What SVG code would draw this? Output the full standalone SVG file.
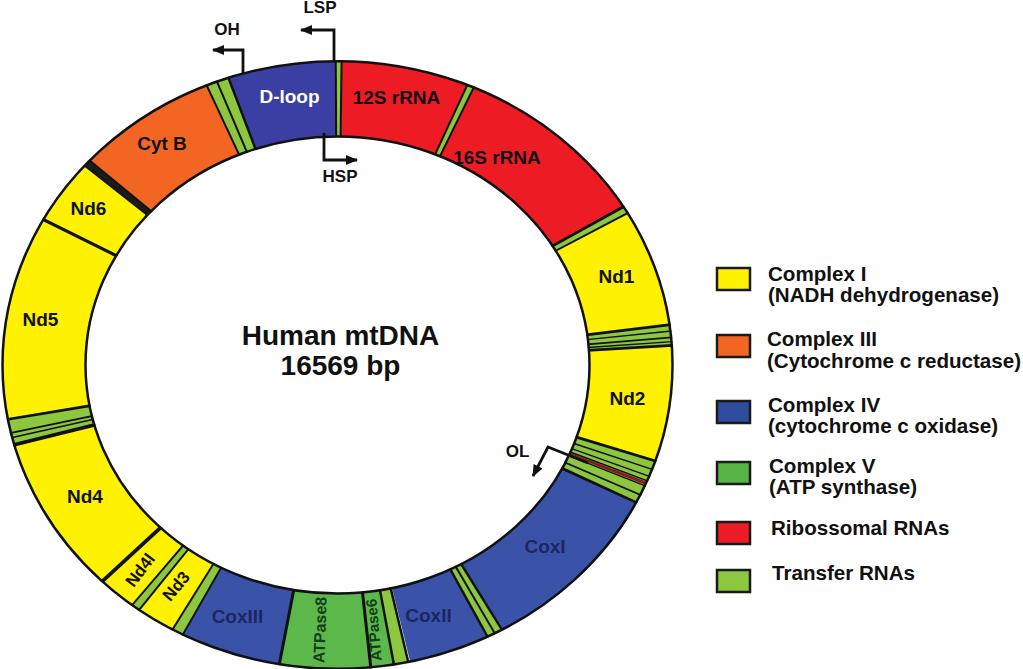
<svg xmlns="http://www.w3.org/2000/svg" xmlns:xlink="http://www.w3.org/1999/xlink" width="1023" height="669" viewBox="0 0 1023 669">
<style>
.lbl{font-family:"Liberation Sans",Arial,sans-serif;font-weight:bold;font-size:19px;text-anchor:middle;fill:#111}
.cox{fill:#1b2760}
.atp{fill:#143d18;font-size:15px}
.wht{fill:#fff}
.leg{font-family:"Liberation Sans",Arial,sans-serif;font-weight:bold;font-size:20.6px;fill:#111}
.ctr{font-family:"Liberation Sans",Arial,sans-serif;font-weight:bold;font-size:28px;text-anchor:middle;fill:#111}
.box{stroke:#1a1a1a;stroke-width:2.5}
.tk{stroke:#111}
.arr{fill:none;stroke:#111;stroke-width:2.8}
</style>
<defs>
<path id="ring" d="M0,-293.5A293.5,293.5 0 0 1 0,293.5A293.5,293.5 0 0 1 0,-293.5" pathLength="360" fill="none" stroke-width="83"/>
<line id="tk" x1="0" y1="-251" x2="0" y2="-336"/>
<marker id="ah" viewBox="0 0 12 10" refX="11" refY="5" markerWidth="12" markerHeight="10" markerUnits="userSpaceOnUse" orient="auto"><path d="M0,0L12,5L0,10z" fill="#111"/></marker>
</defs>
<rect width="1023" height="669" fill="#fff"/>

<g id="dloop"><use href="#ring" transform="translate(337.5,365) scale(1,0.907) rotate(341)" stroke="#3b3ea2" stroke-dasharray="18.7 400"/><text class="lbl wht" x="289.5" y="103">D-loop</text></g>
<g id="trna-phe"><use href="#ring" transform="translate(337.5,365) scale(1,0.907) rotate(-0.3)" stroke="#8dc63f" stroke-dasharray="1 400"/></g>
<g id="rrna12s"><use href="#ring" transform="translate(337.5,365) scale(1,0.907) rotate(0.7)" stroke="#ed1c24" stroke-dasharray="22.1 400"/><text class="lbl" x="396.5" y="104">12S rRNA</text></g>
<g id="trna-val"><use href="#ring" transform="translate(337.5,365) scale(1,0.907) rotate(22.8)" stroke="#8dc63f" stroke-dasharray="1.2 400"/></g>
<g id="rrna16s"><use href="#ring" transform="translate(337.5,365) scale(1,0.907) rotate(24)" stroke="#ed1c24" stroke-dasharray="34.6 400"/><text class="lbl" x="497" y="164">16S rRNA</text></g>
<g id="trna-leu"><use href="#ring" transform="translate(337.5,365) scale(1,0.907) rotate(58.6)" stroke="#8dc63f" stroke-dasharray="1.4 400"/></g>
<g id="nd1"><use href="#ring" transform="translate(337.5,365) scale(1,0.907) rotate(60)" stroke="#fff200" stroke-dasharray="22.3 400"/><text class="lbl" x="616.5" y="283">Nd1</text></g>
<g id="trna-iqm"><use href="#ring" transform="translate(337.5,365) scale(1,0.907) rotate(82.3)" stroke="#8dc63f" stroke-dasharray="4 400"/></g>
<g id="nd2"><use href="#ring" transform="translate(337.5,365) scale(1,0.907) rotate(86.3)" stroke="#fff200" stroke-dasharray="22 400"/><text class="lbl" x="627.5" y="405">Nd2</text></g>
<g id="trna-wancy"><use href="#ring" transform="translate(337.5,365) scale(1,0.907) rotate(108.3)" stroke="#8dc63f" stroke-dasharray="8.7 400"/><use href="#ring" transform="translate(337.5,365) scale(1,0.907) rotate(112.6)" stroke="#8b1c1c" stroke-dasharray="0.6 400"/></g>
<g id="cox1"><use href="#ring" transform="translate(337.5,365) scale(1,0.907) rotate(117)" stroke="#3a53a8" stroke-dasharray="33.5 400"/><text class="lbl cox" x="545" y="553">CoxI</text></g>
<g id="trna-sd"><use href="#ring" transform="translate(337.5,365) scale(1,0.907) rotate(150.5)" stroke="#8dc63f" stroke-dasharray="3 400"/></g>
<g id="cox2"><use href="#ring" transform="translate(337.5,365) scale(1,0.907) rotate(153.5)" stroke="#3a53a8" stroke-dasharray="14 400"/><text class="lbl cox" x="428.5" y="622">CoxII</text></g>
<g id="trna-lys"><use href="#ring" transform="translate(337.5,365) scale(1,0.907) rotate(167.8)" stroke="#8dc63f" stroke-dasharray="2.5 400"/></g>
<g id="atpase6"><use href="#ring" transform="translate(337.5,365) scale(1,0.907) rotate(170.3)" stroke="#5cb84a" stroke-dasharray="4 400"/><text class="lbl atp" transform="translate(374,630) rotate(-95)" x="0" y="5">ATPase6</text></g>
<g id="atpase8"><use href="#ring" transform="translate(337.5,365) scale(1,0.907) rotate(174.3)" stroke="#5cb84a" stroke-dasharray="15.7 400"/><text class="lbl atp" transform="translate(320,630) rotate(-88)" x="0" y="5.5" style="font-size:16px">ATPase8</text></g>
<g id="cox3"><use href="#ring" transform="translate(337.5,365) scale(1,0.907) rotate(190)" stroke="#3a53a8" stroke-dasharray="17.5 400"/><text class="lbl cox" x="237.5" y="623">CoxIII</text></g>
<g id="trna-gly"><use href="#ring" transform="translate(337.5,365) scale(1,0.907) rotate(207.5)" stroke="#8dc63f" stroke-dasharray="2 400"/></g>
<g id="trna-arg"><use href="#ring" transform="translate(337.5,365) scale(1,0.907) rotate(216.3)" stroke="#8dc63f" stroke-dasharray="1.5 400"/></g>
<g id="nd4l"><use href="#ring" transform="translate(337.5,365) scale(1,0.907) rotate(217.8)" stroke="#fff200" stroke-dasharray="6.8 400"/><text class="lbl" transform="translate(140,570) rotate(-53)" x="0" y="6" style="font-size:17px">Nd4l</text></g>
<g id="nd3"><use href="#ring" transform="translate(337.5,365) scale(1,0.907) rotate(209.5)" stroke="#fff200" stroke-dasharray="6.8 400"/><text class="lbl" transform="translate(176,586) rotate(-50)" x="0" y="6" style="font-size:17px">Nd3</text></g>
<g id="nd4"><use href="#ring" transform="translate(337.5,365) scale(1,0.907) rotate(224.6)" stroke="#fff200" stroke-dasharray="29.9 400"/><text class="lbl" x="85" y="503">Nd4</text></g>
<g id="trna-hsl"><use href="#ring" transform="translate(337.5,365) scale(1,0.907) rotate(254.5)" stroke="#8dc63f" stroke-dasharray="5.5 400"/></g>
<g id="nd5"><use href="#ring" transform="translate(337.5,365) scale(1,0.907) rotate(260)" stroke="#fff200" stroke-dasharray="38.6 400"/><text class="lbl" x="40.5" y="326">Nd5</text></g>
<g id="nd6"><use href="#ring" transform="translate(337.5,365) scale(1,0.907) rotate(298.6)" stroke="#fff200" stroke-dasharray="12.4 400"/><text class="lbl" x="88.5" y="215">Nd6</text></g>
<g id="trna-glu"><use href="#ring" transform="translate(337.5,365) scale(1,0.907) rotate(311)" stroke="#1b1b1b" stroke-dasharray="1.3 400"/></g>
<g id="cytb"><use href="#ring" transform="translate(337.5,365) scale(1,0.907) rotate(312.3)" stroke="#f26522" stroke-dasharray="24.7 400"/><text class="lbl" x="162" y="150">Cyt B</text></g>
<g id="trna-tp"><use href="#ring" transform="translate(337.5,365) scale(1,0.907) rotate(337)" stroke="#8dc63f" stroke-dasharray="4 400"/></g>

<g id="separators" class="tk">
<use href="#tk" transform="translate(337.5,365) scale(1,0.907) rotate(341)" stroke-width="2.5"/>
<use href="#tk" transform="translate(337.5,365) scale(1,0.907) rotate(359.7)" stroke-width="2"/>
<use href="#tk" transform="translate(337.5,365) scale(1,0.907) rotate(0.7)" stroke-width="2"/>
<use href="#tk" transform="translate(337.5,365) scale(1,0.907) rotate(22.8)" stroke-width="2"/>
<use href="#tk" transform="translate(337.5,365) scale(1,0.907) rotate(24)" stroke-width="2"/>
<use href="#tk" transform="translate(337.5,365) scale(1,0.907) rotate(58.6)" stroke-width="3"/>
<use href="#tk" transform="translate(337.5,365) scale(1,0.907) rotate(60)" stroke-width="2"/>
<use href="#tk" transform="translate(337.5,365) scale(1,0.907) rotate(82.4)" stroke-width="3"/>
<use href="#tk" transform="translate(337.5,365) scale(1,0.907) rotate(83.6)" stroke-width="1.5"/>
<use href="#tk" transform="translate(337.5,365) scale(1,0.907) rotate(84.8)" stroke-width="2"/>
<use href="#tk" transform="translate(337.5,365) scale(1,0.907) rotate(85.6)" stroke-width="1.5"/>
<use href="#tk" transform="translate(337.5,365) scale(1,0.907) rotate(86.3)" stroke-width="3"/>
<use href="#tk" transform="translate(337.5,365) scale(1,0.907) rotate(108.4)" stroke-width="3"/>
<use href="#tk" transform="translate(337.5,365) scale(1,0.907) rotate(110.1)" stroke-width="1.5"/>
<use href="#tk" transform="translate(337.5,365) scale(1,0.907) rotate(111.5)" stroke-width="1.5"/>
<use href="#tk" transform="translate(337.5,365) scale(1,0.907) rotate(112.4)" stroke-width="1.5"/>
<use href="#tk" transform="translate(337.5,365) scale(1,0.907) rotate(113.4)" stroke-width="1.5"/>
<use href="#tk" transform="translate(337.5,365) scale(1,0.907) rotate(115.3)" stroke-width="2"/>
<use href="#tk" transform="translate(337.5,365) scale(1,0.907) rotate(116.9)" stroke-width="3"/>
<use href="#tk" transform="translate(337.5,365) scale(1,0.907) rotate(150.6)" stroke-width="2.5"/>
<use href="#tk" transform="translate(337.5,365) scale(1,0.907) rotate(152)" stroke-width="2"/>
<use href="#tk" transform="translate(337.5,365) scale(1,0.907) rotate(153.4)" stroke-width="2.5"/>
<use href="#tk" transform="translate(337.5,365) scale(1,0.907) rotate(167.8)" stroke-width="2.5"/>
<use href="#tk" transform="translate(337.5,365) scale(1,0.907) rotate(170.3)" stroke-width="2.5"/>
<use href="#tk" transform="translate(337.5,365) scale(1,0.907) rotate(174.3)" stroke-width="3"/>
<use href="#tk" transform="translate(337.5,365) scale(1,0.907) rotate(190)" stroke-width="3"/>
<use href="#tk" transform="translate(337.5,365) scale(1,0.907) rotate(207.5)" stroke-width="2"/>
<use href="#tk" transform="translate(337.5,365) scale(1,0.907) rotate(209.5)" stroke-width="2"/>
<use href="#tk" transform="translate(337.5,365) scale(1,0.907) rotate(216.3)" stroke-width="2"/>
<use href="#tk" transform="translate(337.5,365) scale(1,0.907) rotate(217.8)" stroke-width="2"/>
<use href="#tk" transform="translate(337.5,365) scale(1,0.907) rotate(224.6)" stroke-width="4"/>
<use href="#tk" transform="translate(337.5,365) scale(1,0.907) rotate(254.8)" stroke-width="4"/>
<use href="#tk" transform="translate(337.5,365) scale(1,0.907) rotate(256.2)" stroke-width="1.8"/>
<use href="#tk" transform="translate(337.5,365) scale(1,0.907) rotate(257.1)" stroke-width="2"/>
<use href="#tk" transform="translate(337.5,365) scale(1,0.907) rotate(259.7)" stroke-width="3"/>
<use href="#tk" transform="translate(337.5,365) scale(1,0.907) rotate(298.6)" stroke-width="3.5"/>
<use href="#tk" transform="translate(337.5,365) scale(1,0.907) rotate(311)" stroke-width="2"/>
<use href="#tk" transform="translate(337.5,365) scale(1,0.907) rotate(312.3)" stroke-width="2"/>
<use href="#tk" transform="translate(337.5,365) scale(1,0.907) rotate(337)" stroke-width="2"/>
<use href="#tk" transform="translate(337.5,365) scale(1,0.907) rotate(338.9)" stroke-width="2"/>
</g>
<g id="ring-outline" fill="none" stroke="#111" stroke-width="2.5">
<ellipse cx="337.5" cy="365" rx="335" ry="303.85"/>
<ellipse cx="337.5" cy="365" rx="252" ry="228.56"/>
</g>

<g id="center-title">
<text class="ctr" x="340.5" y="345">Human mtDNA</text>
<text class="ctr" x="340.5" y="375">16569 bp</text>
</g>

<g id="connectors">
<path class="arr" d="M243,73V50H213" marker-end="url(#ah)"/>
<path class="arr" d="M334,62V30H301" marker-end="url(#ah)"/>
<path class="arr" d="M324,133V160H357" marker-end="url(#ah)"/>
<path class="arr" d="M588,463L548,447L533,476" marker-end="url(#ah)"/>
</g>
<g id="origin-labels">
<text class="lbl" x="227" y="35" style="font-size:17px">OH</text>
<text class="lbl" x="320" y="13" style="font-size:17px">LSP</text>
<text class="lbl" x="340" y="182" style="font-size:17px">HSP</text>
<text class="lbl" x="517.5" y="457" style="font-size:17px">OL</text>
</g>

<g id="legend">
<g id="leg-c1"><rect class="box" x="717" y="268" width="33" height="22" fill="#fff200"/><text class="leg" x="768" y="281">Complex I</text><text class="leg" x="768" y="302">(NADH dehydrogenase)</text></g>
<g id="leg-c3"><rect class="box" x="717" y="335" width="33" height="22" fill="#f26522"/><text class="leg" x="767" y="346">Complex III</text><text class="leg" x="767" y="368">(Cytochrome c reductase)</text></g>
<g id="leg-c4"><rect class="box" x="717" y="401" width="33" height="22" fill="#2f4c9e"/><text class="leg" x="768" y="412">Complex IV</text><text class="leg" x="768" y="433">(cytochrome c oxidase)</text></g>
<g id="leg-c5"><rect class="box" x="717" y="462" width="33" height="22" fill="#58b447"/><text class="leg" x="769" y="473">Complex V</text><text class="leg" x="769" y="494">(ATP synthase)</text></g>
<g id="leg-rrna"><rect class="box" x="717" y="522" width="33" height="22" fill="#ed1c24"/><text class="leg" x="771" y="535">Ribossomal RNAs</text></g>
<g id="leg-trna"><rect class="box" x="717" y="570" width="33" height="22" fill="#8dc63f"/><text class="leg" x="772" y="580">Transfer RNAs</text></g>
</g>
</svg>
